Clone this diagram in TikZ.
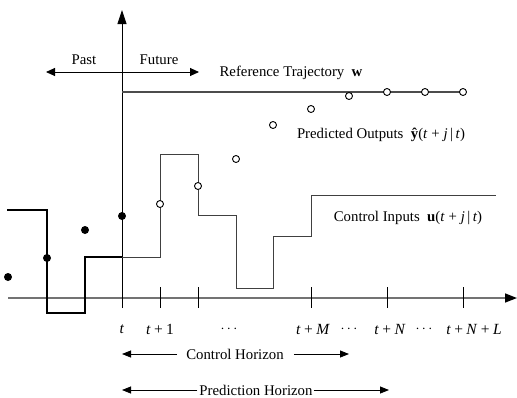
\documentclass[tikz,border=0pt]{standalone}
\usepackage{fontspec}
\setmainfont{Liberation Serif}
\usetikzlibrary{arrows.meta}
\newcommand{\pl}{\hskip0.22em+\hskip0.22em}
\newcommand{\plw}{\hskip0.26em+\hskip0.26em}
\begin{document}
\begin{tikzpicture}[x=1pt,y=-1pt,
  lbl/.style={font=\fontsize{14.8}{17}\selectfont, inner sep=0pt},
  tiklbl/.style={font=\fontsize{15.5}{17}\selectfont, inner sep=0pt},
  tip/.style={-{Triangle[length=9pt,width=7pt]}},
  dtip/.style={{Triangle[length=9pt,width=8pt]}-{Triangle[length=9pt,width=8pt]}},
  pred/.style={circle, draw=black, fill=white, line width=0.9pt, inner sep=0pt, minimum size=7pt},
  past/.style={circle, fill=black, inner sep=0pt, minimum size=8pt},
  tick/.style={line width=0.7pt, black},
  futctrl/.style={line width=0.9pt, black!75},
  pastctrl/.style={line width=1.6pt, black}
]
\useasboundingbox (0,0) rectangle (517,397);

% horizontal axis
\coordinate (hx0) at (8,298);
\coordinate (hx1) at (517,298);
\draw[line width=1.5pt, black!55, -{Triangle[length=12pt,width=9pt,color=black]}] (hx0) -- (hx1);

% ticks
\foreach \n/\x in {t1/160, t2/198, tM/311, tN/387, tL/463}{
  \coordinate (\n a) at (\x,287);
  \coordinate (\n b) at (\x,308);
  \draw[tick] (\n a) -- (\n b);
}

% vertical axis
\coordinate (vx0) at (122,308);
\coordinate (vx1) at (122,10);
\draw[line width=0.9pt, -{Triangle[length=14pt,width=9pt]}] (vx0) -- (vx1);

% past / future
\coordinate (pfL) at (46,72);
\coordinate (pfR) at (199,72);
\draw[line width=0.9pt, dtip] (pfL) -- (pfR);
\node[lbl] (pastlbl) at (84,60) {Past};
\node[lbl] (futlbl) at (159,60) {Future};

% reference trajectory
\coordinate (ref0) at (122,92);
\coordinate (ref1) at (463,92);
\draw[line width=1.4pt, black!70] (ref0) -- (ref1);
\node[lbl] (reflbl) at (291,73) {Reference Trajectory\enspace\textbf{w}};

% past control (thick)
\coordinate (pc0) at (7,210);
\coordinate (pc1) at (47,210);
\coordinate (pc2) at (47,313);
\coordinate (pc3) at (85,313);
\coordinate (pc4) at (85,257);
\coordinate (pc5) at (122,257);
\draw[pastctrl] (pc0) -- (pc1) -- (pc2) -- (pc3) -- (pc4) -- (pc5);

% future control (thin)
\coordinate (fc1) at (160,257);
\coordinate (fc2) at (160,154);
\coordinate (fc3) at (198,154);
\coordinate (fc4) at (198,215);
\coordinate (fc5) at (236,215);
\coordinate (fc6) at (236,288);
\coordinate (fc7) at (273,288);
\coordinate (fc8) at (273,236);
\coordinate (fc9) at (311,236);
\coordinate (fc10) at (311,195);
\coordinate (fc11) at (496,195);
\draw[futctrl] (pc5) -- (fc1) -- (fc2) -- (fc3) -- (fc4) -- (fc5) -- (fc6) -- (fc7) -- (fc8) -- (fc9) -- (fc10) -- (fc11);

% past outputs
\node[past] (y1) at (8,277) {};
\node[past] (y2) at (47,258) {};
\node[past] (y3) at (85,230) {};
\node[past] (y4) at (122,216) {};

% predicted outputs
\foreach \n/\x/\y in {p1/160/204, p2/198/186, p3/236/159, p4/273/125, p5/311/109, p6/349/96, p7/387/92, p8/425/92, p9/463/92}{
  \node[pred] (\n) at (\x,\y) {};
}

\node[lbl] (predlbl) at (381,135) {Predicted Outputs\enspace\textbf{ŷ}(\textit{t}\plw\textit{j}\,|\,\textit{t})};
\node[lbl] (ctrllbl) at (408,218) {Control Inputs\enspace\textbf{u}(\textit{t}\plw\textit{j}\,|\,\textit{t})};

% tick labels
\node[tiklbl] (lt) at (122,329) {\textit{t}};
\node[tiklbl] (lt1) at (160,329) {\textit{t}\pl 1};
\node[tiklbl] (ld1) at (229,329) {$\cdots$};
\node[tiklbl] (ltM) at (313,329) {\textit{t}\pl\textit{M}};
\node[tiklbl] (ld2) at (349,329) {$\cdots$};
\node[tiklbl] (ltN) at (390,329) {\textit{t}\pl\textit{N}};
\node[tiklbl] (ld3) at (424,329) {$\cdots$};
\node[tiklbl] (ltL) at (474,329) {\textit{t}\pl\textit{N}\pl\textit{L}};

% control horizon
\node[lbl] (chlbl) at (235,354) {Control Horizon};
\coordinate (chL) at (122,354);
\coordinate (chR) at (349,354);
\draw[line width=0.8pt, tip] ([xshift=-9pt]chlbl.west) -- (chL);
\draw[line width=0.8pt, tip] ([xshift=10pt]chlbl.east) -- (chR);

% prediction horizon
\node[lbl] (phlbl) at (256,390) {Prediction Horizon};
\coordinate (phL) at (122,390);
\coordinate (phR) at (389,390);
\draw[line width=0.8pt, tip] ([xshift=-2pt]phlbl.west) -- (phL);
\draw[line width=0.8pt, tip] ([xshift=1pt]phlbl.east) -- (phR);
\end{tikzpicture}
\end{document}
